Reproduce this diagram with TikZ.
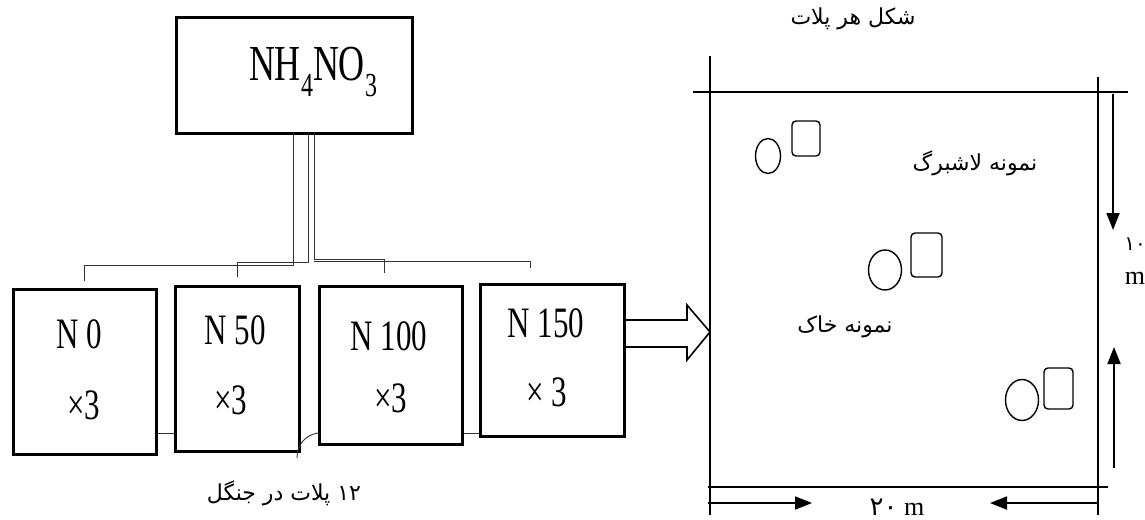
\documentclass[tikz,border=0pt]{standalone}
\usepackage{fontspec}
\setmainfont{Liberation Serif}
\newfontfamily\fa[Script=Arabic]{DejaVu Sans}
\TeXXeTstate=1
\usetikzlibrary{arrows.meta}
\tikzset{
  box/.style={draw, line width=2.6pt, anchor=north west, inner sep=0pt},
  lbl/.style={inner sep=0pt, font=\fontsize{31}{34}\selectfont},
  conn/.style={line width=0.9pt, draw=black!80},
  frame/.style={line width=1.1pt},
  dimarrow/.style={line width=1.8pt, -{Triangle[length=17pt,width=13pt]}},
  fatarrow/.style={line width=1.6pt, line join=miter},
  pers/.style={inner sep=0pt, font=\fa\fontsize{22}{24}\selectfont},
  sampleo/.style={line width=1.4pt},
}
\newcommand{\tall}[1]{\scalebox{1}[1.4]{#1}}
\begin{document}
\begin{tikzpicture}[x=1pt,y=-1pt]
\useasboundingbox (0,0) rectangle (1145,519);
% top box
\node[box, minimum width=236, minimum height=116] (nh) at (175,16) {};
\node[inner sep=0pt, font=\fontsize{36}{40}\selectfont] (nht) at (313,72)
  {\tall{NH\raisebox{-0.3em}{\fontsize{24}{24}\selectfont 4}NO\raisebox{-0.3em}{\fontsize{24}{24}\selectfont 3}}};
% treatment boxes
\node[box, minimum width=143, minimum height=165] (n0) at (12,288) {};
\node[box, minimum width=124, minimum height=165] (n50) at (174,285) {};
\node[box, minimum width=143, minimum height=158] (n100) at (318,285) {};
\node[box, minimum width=144, minimum height=152] (n150) at (479,283) {};
\node[lbl] (t0) at (79,334) {\tall{N 0}};
\node[lbl] (x0) at (84,405) {\tall{×3}};
\node[lbl] (t50) at (235,330) {\tall{N 50}};
\node[lbl] (x50) at (231,400) {\tall{×3}};
\node[lbl] (t100) at (389,336) {\tall{N 100}};
\node[lbl] (x100) at (391,398) {\tall{×3}};
\node[lbl] (t150) at (546,323) {\tall{N 150}};
\node[lbl] (x150) at (547,392) {\tall{× 3}};
% tree connectors
\draw[conn] (nh.south -| 293,0) -- (293,265) -- (84,265) -- (84,281);
\draw[conn] (nh.south -| 308,0) -- (308,262) -- (237,262) -- (237,277);
\draw[conn] (nh.south -| 314,0) -- (314,259) -- (384,259) -- (384,273);
\draw[conn] (314,261) -- (530,261) -- (530,268);
% links between boxes
\draw[conn] (n0.east |- 0,433) -- (n50.west |- 0,433);
\draw[conn] (n100.east |- 0,433) -- (n150.west |- 0,433);
\draw[conn] (n100.west |- 0,433) .. controls (305,435) and (297,445) .. (297,458);
\node[pers] (cap) at (284,493) {\beginR\beginL ۱۲\endL{} پلات در جنگل\endR};
% fat arrow
\coordinate (fa) at (710,332);
\draw[fatarrow] (n150.east |- 0,320) -- (687,320) -- (687,305) -- (fa) -- (687,360) -- (687,347) -- (n150.east |- 0,347);
% plot frame
\node[pers] (title) at (853,19) {\beginR شکل هر پلات\endR};
\draw[frame] (693,92) -- (1128,92);
\draw[frame] (708,487) -- (1108,487);
\draw[frame] (710,56) -- (710,515);
\draw[frame] (1098,77) -- (1098,515);
% samples
\draw[sampleo] (768,156) ellipse [x radius=12.5pt, y radius=17.5pt];
\draw[sampleo, rounded corners=4pt] (792,121) rectangle (820,156);
\draw[sampleo] (885,270) ellipse [x radius=16.5pt, y radius=20pt];
\draw[sampleo, rounded corners=4pt] (911,233) rectangle (942,277);
\draw[sampleo] (1022,400) ellipse [x radius=16.5pt, y radius=20.5pt];
\draw[sampleo, rounded corners=4pt] (1044,368) rectangle (1073,409);
\node[pers] (litter) at (975,163) {\beginR نمونه لاشبرگ\endR};
\node[pers] (soil) at (845,327) {\beginR نمونه خاک\endR};
% dimension arrows
\coordinate (bl) at (708,503);
\coordinate (br) at (1099,503);
\coordinate (bla) at (812,503);
\coordinate (bra) at (990,503);
\draw[dimarrow] (bl) -- (bla);
\draw[dimarrow] (br) -- (bra);
\coordinate (rt) at (1113,94);
\coordinate (rta) at (1113,230);
\coordinate (rb) at (1114,468);
\coordinate (rba) at (1114,347);
\draw[dimarrow] (rt) -- (rta);
\draw[dimarrow] (rb) -- (rba);
\node[inner sep=0pt, anchor=base, font=\fontsize{26}{28}\selectfont] (w20) at (897,515) {{\fa ۲۰}\ m};
\node[inner sep=0pt, font=\fa\fontsize{20}{22}\selectfont] (h10) at (1135,244) {۱۰};
\node[inner sep=0pt, font=\fontsize{26}{28}\selectfont] (hm) at (1135,278) {m};
\end{tikzpicture}
\end{document}
